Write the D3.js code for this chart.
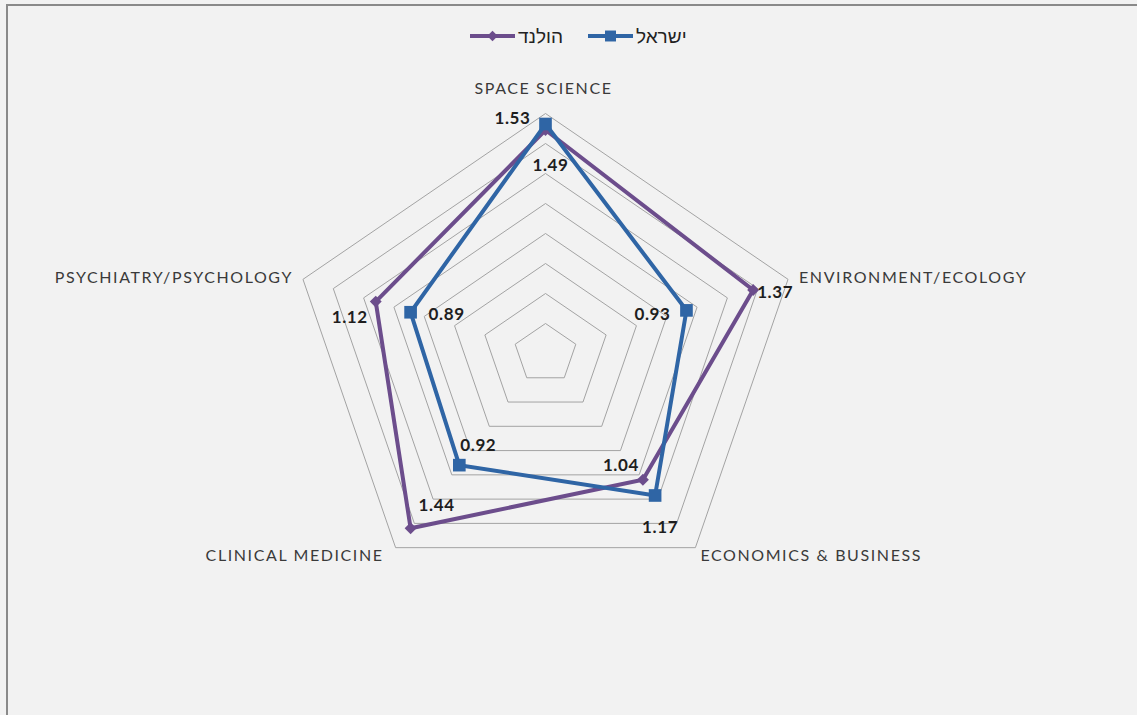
<!DOCTYPE html>
<html>
<head>
<meta charset="utf-8">
<script src="https://cdn.jsdelivr.net/npm/d3@7"></script>
<style>
  body { margin: 0; background: #f2f2f2; }
  svg { display: block; }
</style>
</head>
<body>
<div id="chart"></div>
<script>
// categories (clockwise from the top)
const categories = ["SPACE SCIENCE", "ENVIRONMENT/ECOLOGY", "ECONOMICS & BUSINESS", "CLINICAL MEDICINE", "PSYCHIATRY/PSYCHOLOGY"];
const seriesNames = ["הולנד", "ישראל"];
const netherlandsValues = [1.49, 1.37, 1.04, 1.44, 1.12];
const israelValues = [1.53, 0.93, 1.17, 0.92, 0.89];
const ringTicks = [0.2, 0.4, 0.6, 0.8, 1.0, 1.2, 1.4, 1.6];

const width = 1137, height = 715;
const cx = 545.5, cy = 353.5;
const radius = 240;
const xStretch = 1.0625;   // the picture is a bit wider than tall

const colors = ["#6c4d8c", "#2f65a5"];

// data label placement: [dx, dy, anchor] relative to the point
const labelPlace = [
    [[5, 35, "middle"], [4, 2, "start"], [-4, -15, "end"], [8, -23, "start"], [-8, 15, "end"]],
    [[-15, -6, "end"], [-16, 4, "end"], [5, 32, "middle"], [1, -20, "start"], [18, 2, "start"]]
];
// category label placement relative to the outer vertex
const catPlace = [[-2, -25, "middle"], [11, -2, "start"], [5, 8, "start"], [-12, 8, "end"], [-10, -2, "end"]];

const rScale = d3.scaleLinear().domain([0, 1.6]).range([0, radius]);
const angle = i => -Math.PI / 2 + i * 2 * Math.PI / categories.length;
const pointAt = (i, v) => [
    cx + Math.cos(angle(i)) * rScale(v) * xStretch,
    cy + Math.sin(angle(i)) * rScale(v)
];

const svg = d3.select("#chart").append("svg")
    .attr("width", width)
    .attr("height", height);

// background and frame
svg.append("rect").attr("width", width).attr("height", height).attr("fill", "#f2f2f2");
svg.append("line").attr("x1", 6).attr("x2", width).attr("y1", 5).attr("y2", 5)
    .attr("stroke", "#8a8a8a").attr("stroke-width", 2);
svg.append("line").attr("x1", 7).attr("x2", 7).attr("y1", 4).attr("y2", height)
    .attr("stroke", "#8a8a8a").attr("stroke-width", 2);

const line = d3.line().curve(d3.curveLinearClosed);

// grid rings
svg.append("g").attr("class", "gridG")
    .selectAll("path")
    .data(ringTicks)
    .join("path")
    .attr("d", t => line(categories.map((c, i) => pointAt(i, t))))
    .attr("fill", "none")
    .attr("stroke", "#a3a3a3")
    .attr("stroke-width", 1);

// category labels
svg.append("g").attr("class", "catG")
    .selectAll("text")
    .data(categories)
    .join("text")
    .attr("x", (c, i) => pointAt(i, 1.6)[0] + catPlace[i][0])
    .attr("y", (c, i) => pointAt(i, 1.6)[1] + catPlace[i][1])
    .attr("dy", "0.35em")
    .attr("text-anchor", (c, i) => catPlace[i][2])
    .style("font-family", "Lato, 'Liberation Sans', sans-serif")
    .style("font-size", "16px")
    .style("letter-spacing", "1.6px")
    .attr("fill", "#3a3a3a")
    .text(c => c);

const allSeries = [netherlandsValues, israelValues];

// series lines and markers
allSeries.forEach((values, s) => {
    const g = svg.append("g").attr("class", "seriesG");
    const pts = values.map((v, i) => pointAt(i, v));
    g.append("path")
        .attr("d", line(pts))
        .attr("fill", "none")
        .attr("stroke", colors[s])
        .attr("stroke-width", 4)
        .attr("stroke-linejoin", "miter");
    const symbol = s === 0
        ? d3.symbol().type(d3.symbolDiamond2).size(90)
        : d3.symbol().type(d3.symbolSquare).size(160);
    g.selectAll(".marker")
        .data(pts)
        .join("path")
        .attr("class", "marker")
        .attr("d", symbol())
        .attr("transform", p => "translate(" + p[0] + "," + p[1] + ")")
        .attr("fill", colors[s]);
});

// data labels
allSeries.forEach((values, s) => {
    svg.append("g").attr("class", "labelG")
        .selectAll("text")
        .data(values)
        .join("text")
        .attr("x", (v, i) => pointAt(i, v)[0] + labelPlace[s][i][0])
        .attr("y", (v, i) => pointAt(i, v)[1] + labelPlace[s][i][1])
        .attr("dy", "0.35em")
        .attr("text-anchor", (v, i) => labelPlace[s][i][2])
        .style("font-family", "Lato, 'Liberation Sans', sans-serif")
        .style("font-size", "17px")
        .style("font-weight", "bold")
        .style("letter-spacing", "0.6px")
        .attr("fill", "#1e1e1e")
        .text(v => v.toFixed(2));
});

// legend
const legendItems = [
    {name: seriesNames[0], x: 470, color: colors[0], sym: d3.symbol().type(d3.symbolDiamond2).size(70)},
    {name: seriesNames[1], x: 588, color: colors[1], sym: d3.symbol().type(d3.symbolSquare).size(120)}
];
const legendG = svg.append("g").attr("class", "legendG");
legendItems.forEach(item => {
    const g = legendG.append("g").attr("transform", "translate(" + item.x + ",36)");
    g.append("line").attr("x1", 0).attr("x2", 45).attr("y1", 0).attr("y2", 0)
        .attr("stroke", item.color).attr("stroke-width", 4);
    g.append("path").attr("d", item.sym()).attr("transform", "translate(22.5,0)").attr("fill", item.color);
    g.append("text")
        .attr("x", 48)
        .attr("y", 0)
        .attr("dy", "0.35em")
        .attr("text-anchor", "start")
        .style("font-family", "'Liberation Sans', 'DejaVu Sans', sans-serif")
        .style("font-size", "19px")
        .attr("fill", "#222")
        .text(item.name);
});
</script>
</body>
</html>
